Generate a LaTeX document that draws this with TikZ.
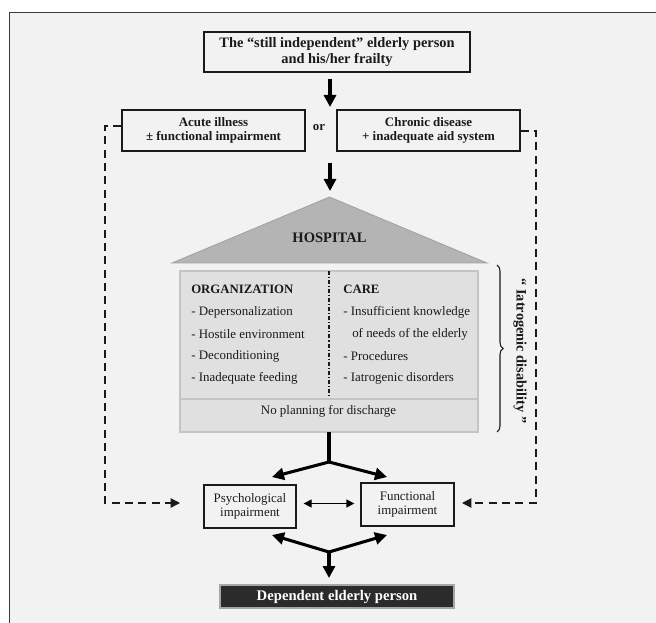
\documentclass[tikz,border=0pt]{standalone}
\usepackage{fontspec}
\setmainfont{Liberation Serif}
\usetikzlibrary{arrows.meta,decorations.pathreplacing,calc}
\definecolor{panel}{HTML}{F2F2F2}
\definecolor{ink}{HTML}{1A1A1A}
\definecolor{frameline}{HTML}{3A3A3A}
\definecolor{roof}{HTML}{B4B4B4}
\definecolor{roofline}{HTML}{A0A0A0}
\definecolor{hosp}{HTML}{E0E0E0}
\definecolor{hospline}{HTML}{C4C4C4}
\definecolor{darkbox}{HTML}{2B2B2B}
\begin{document}
\begin{tikzpicture}[x=0.75pt,y=-0.75pt,
  box/.style={draw=ink,line width=1pt,inner sep=0pt,align=center,text=ink},
  bigtxt/.style={font=\bfseries\fontsize{10.8}{12}\selectfont},
  midtxt/.style={font=\bfseries\fontsize{9.7}{10}\selectfont},
  smalltxt/.style={font=\fontsize{9.7}{10.5}\selectfont},
  itemtxt/.style={font=\fontsize{9.7}{11}\selectfont,anchor=west,inner sep=0pt,text=ink},
  headtxt/.style={font=\bfseries\fontsize{9.6}{11}\selectfont,anchor=west,inner sep=0pt,text=ink},
  bigarrow/.style={line width=2.3pt,draw=black,-{Triangle[length=9pt,width=9pt]}},
  bigline/.style={line width=2.3pt,draw=black},
  feedback/.style={line width=1pt,draw=ink,dash pattern=on 6pt off 4pt,-{Triangle[length=7pt,width=7pt]}},
  twoway/.style={line width=1pt,draw=black,{Triangle[length=6pt,width=6pt]}-{Triangle[length=6pt,width=6pt]}}
]
\useasboundingbox (0,0) rectangle (656,623);
% panel
\fill[white] (0,0) rectangle (656,623);
\fill[panel] (9.5,12.5) rectangle (656,623);
\draw[frameline,line width=1pt] (9.5,623) -- (9.5,12.5) -- (656,12.5);

% top box
\node[box,bigtxt,minimum width=199.5pt,minimum height=30pt] (top) at (337,52)
  {The “still independent” elderly person\\and his/her frailty};
% acute / chronic
\node[box,midtxt,minimum width=137.25pt,minimum height=30.75pt] (acute) at (213.5,130.5)
  {Acute illness\\± functional impairment};
\node[box,midtxt,minimum width=137.25pt,minimum height=30.75pt] (chronic) at (428.5,130.5)
  {Chronic disease\\+ inadequate aid system};
\node[midtxt,text=ink,inner sep=0pt] (or) at (319,128) {or};

% arrows down
\coordinate (a1s) at (330,79);
\coordinate (a1e) at (330,107);
\draw[bigarrow] (a1s) -- (a1e);
\coordinate (a2s) at (330,163);
\coordinate (a2e) at (330,191);
\draw[bigarrow] (a2s) -- (a2e);

% hospital roof
\coordinate (apex) at (329.5,197);
\coordinate (roofl) at (172,263);
\coordinate (roofr) at (487,263);
\filldraw[fill=roof,draw=roofline,line width=0.6pt] (apex) -- (roofl) -- (roofr) -- cycle;
\node[font=\bfseries\fontsize{10.9}{12}\selectfont,text=ink] (hospital) at (329.5,238) {HOSPITAL};

% hospital body
\coordinate (hbtl) at (180,271);
\coordinate (hbbr) at (478,432);
\filldraw[fill=hosp,draw=hospline,line width=1pt] (hbtl) rectangle (hbbr);
\coordinate (hbot) at (329,432);
\coordinate (divt) at (329,271);
\coordinate (divb) at (329,399);
\draw[ink,line width=0.9pt,dash pattern=on 3pt off 1.5pt on 0.8pt off 1.5pt] (divt) -- (divb);
\coordinate (sepl) at (180,399);
\coordinate (sepr) at (478,399);
\draw[hospline,line width=1pt] (sepl) -- (sepr);

\node[headtxt] (org) at (191,289) {ORGANIZATION};
\node[itemtxt] (o1) at (191,312) {- Depersonalization};
\node[itemtxt] (o2) at (191,334) {- Hostile environment};
\node[itemtxt] (o3) at (191,356) {- Deconditioning};
\node[itemtxt] (o4) at (191,378) {- Inadequate feeding};
\node[headtxt] (care) at (343,289) {CARE};
\node[itemtxt] (c1) at (343,312) {- Insufficient knowledge};
\node[itemtxt] (c2) at (352,334) {of needs of the elderly};
\node[itemtxt] (c3) at (343,356) {- Procedures};
\node[itemtxt] (c4) at (343,378) {- Iatrogenic disorders};
\node[font=\fontsize{9.7}{11}\selectfont,text=ink,inner sep=0pt] (noplan) at (328.5,411) {No planning for discharge};

% brace and label
\coordinate (brt) at (497,265);
\coordinate (brb) at (497,432);
\draw[ink,line width=0.8pt,decorate,decoration={brace,amplitude=4.5pt}] (brt) -- (brb);
\node[font=\bfseries\fontsize{10.8}{12}\selectfont,text=ink,rotate=-90,inner sep=0pt] (iatro) at (520,351)
  {“ Iatrogenic disability ”};

% impairment boxes
\node[box,smalltxt,minimum width=69pt,minimum height=32.25pt] (psych) at (250,506.5)
  {Psychological\\impairment};
\node[box,smalltxt,minimum width=69.75pt,minimum height=32.25pt] (func) at (407.5,504.5)
  {Functional\\impairment};

% split from hospital
\coordinate (j1) at (329,462);
\coordinate (t1l) at (272,477);
\coordinate (t1r) at (387,477);
\draw[bigline] (hbot) -- (j1);
\draw[bigarrow] (j1) -- (t1l);
\draw[bigarrow] (j1) -- (t1r);

% two-way arrow
\draw[twoway] ($(psych.east)+(7,-3)$) -- ($(func.west)+(-6,-1)$);

% merge to dependent
\coordinate (j2) at (329,552);
\coordinate (t2l) at (272,535);
\coordinate (t2r) at (387,535);
\coordinate (t2d) at (329,578);
\draw[bigarrow] (j2) -- (t2l);
\draw[bigarrow] (j2) -- (t2r);

\node[draw=gray!70,line width=1pt,fill=darkbox,text=white,font=\bfseries\fontsize{11}{12}\selectfont,
  minimum width=175.5pt,minimum height=17.25pt,inner sep=0pt] (dep) at (337,596.5) {Dependent elderly person};
\draw[bigarrow] (j2) -- (t2d);

% feedback dashed lines
\coordinate (lc1) at (105,126);
\coordinate (lc2) at (105,503);
\coordinate (ltip) at (180,503);
\draw[feedback] (acute.west |- lc1) -- (lc1) -- (lc2) -- (ltip);
\coordinate (rc1) at (536,131);
\coordinate (rc2) at (536,503);
\coordinate (rtip) at (462,503);
\draw[feedback] (chronic.east |- rc1) -- (rc1) -- (rc2) -- (rtip);
\end{tikzpicture}
\end{document}
